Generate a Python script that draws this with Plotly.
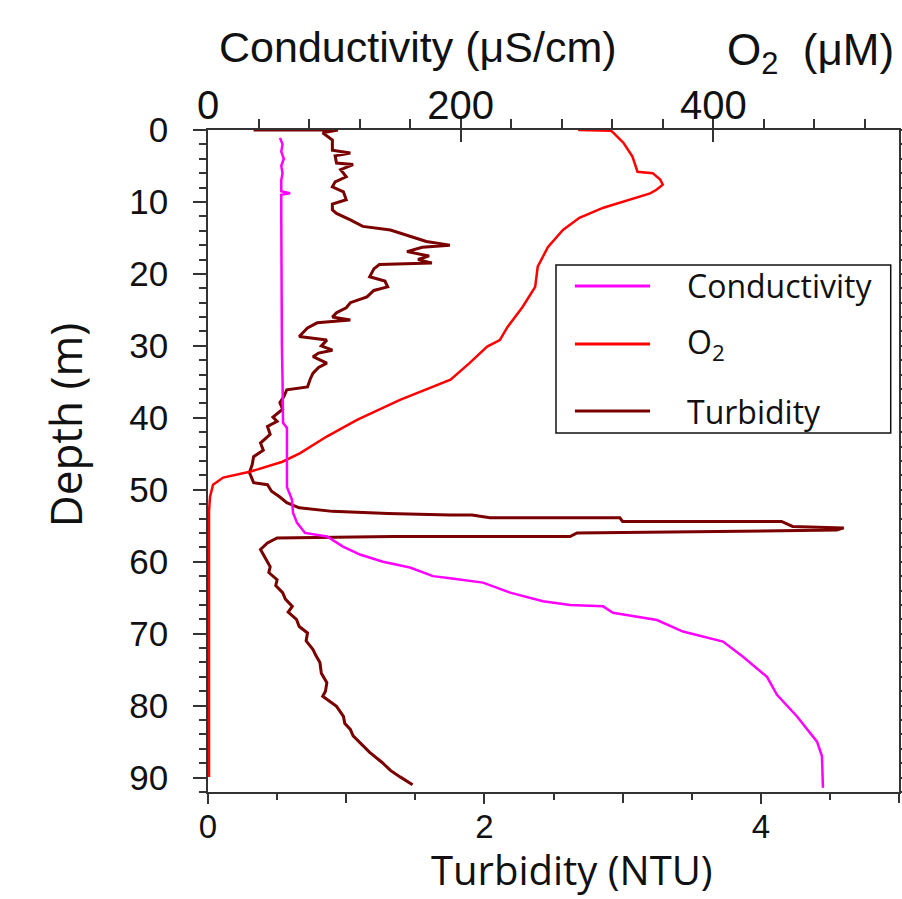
import plotly.graph_objects as go

# ---------------- data ----------------
cond_depth = [1.1, 2, 3, 4, 5, 6, 7, 8.5, 8.8, 9.0, 12, 20, 30, 34.7, 37.5, 40.7, 41.4, 49.6,
              51.4, 53.2, 54.6, 56.0, 56.5, 57.9, 59.0, 60.0, 60.8, 62.0, 62.3, 62.9, 64.3,
              65.5, 66.0, 66.2, 67.1, 68.1, 69.7, 71.1, 73.2, 76.0, 78.5, 81.5, 85.0, 87.0, 91.4]
cond_val = [57, 59, 58, 60, 58, 59, 58, 58, 65, 58, 58, 58, 58.5, 59, 59.4, 59.4, 62.5, 62.5,
            66.5, 67.3, 70.5, 76.8, 94.2, 106.9, 120.3, 138.5, 159.9, 178.1, 191.6, 217.7, 239.1,
            265.2, 286.6, 312.7, 320.6, 355.4, 376.0, 407.7, 423.5, 442.5, 450.4, 466.3, 482.1, 486.0, 486.8]

o2_depth = [0, 0.1, 0.4, 1.8, 3.7, 5.8, 6.0, 6.9, 7.6, 8.3, 8.8, 9.7, 10.8, 12.2, 13.9, 16.3,
            19.0, 21.8, 24.6, 27.4, 29.2, 30.1, 32.4, 34.7, 37.5, 40.3, 42.6, 44.9, 46.1, 47.5,
            48.3, 49.3, 51.0, 53.0, 89.9]
o2_val = [293, 319, 321, 329, 336, 340, 352, 358, 360, 355, 350, 334, 313, 294, 281, 269,
          261, 259, 249, 237, 231, 221, 207, 192, 152, 118, 94, 73, 59, 33,
          12, 4, 1.6, 0.8, 0.8]

turb_depth = [0, 0, 0.4, 1.4, 2.8, 3.2, 3.6, 4.6, 4.8, 5.5, 6.5, 7.2, 7.9, 8.6, 9.7, 10.3, 11.1,
              11.6, 12.5, 13.4, 13.9, 15.0, 15.5, 16.0, 16.3, 16.9, 17.5, 18.0, 18.5, 18.7, 19.3,
              20.4, 21.0, 21.8, 22.3, 23.2, 24.0, 24.7, 25.4, 26.0, 26.4, 26.8, 27.5, 28.7, 29.2,
              30.0, 30.6, 31.0, 31.5, 32.4, 33.0, 33.8, 34.6, 35.7, 36.1, 37.0, 37.9, 38.8, 39.9,
              40.5, 41.2, 42.3, 43.5, 44.5, 45.4, 46.5, 47.6, 49.0, 49.3, 50.2, 51.0, 51.8, 52.5,
              53.0, 53.3, 53.5, 53.5, 53.9, 53.9, 54.4, 54.4, 55.1, 55.3, 55.6, 55.8, 56.0, 56.5,
              56.5, 56.7, 57.4, 58.3, 59.3, 60.7, 61.5, 62.5, 63.3, 64.3, 65.2, 66.2, 67.0, 68.0,
              69.0, 69.9, 71.0, 72.2, 73.0, 74.0, 75.5, 76.8, 78.0, 78.7, 80.1, 81.5, 82.5, 83.3,
              84.2, 85.1, 86.5, 87.9, 89.0, 89.9, 91.0]
turb_val = [0.33, 0.94, 0.83, 0.90, 0.90, 1.03, 0.92, 0.93, 1.05, 0.96, 1.00, 0.92, 0.90, 0.98, 1.00, 0.90, 0.90,
            0.93, 1.03, 1.12, 1.32, 1.51, 1.58, 1.75, 1.55, 1.44, 1.60, 1.52, 1.62, 1.24, 1.20,
            1.17, 1.28, 1.30, 1.20, 1.15, 1.03, 1.00, 0.93, 0.90, 1.03, 0.79, 0.72, 0.66, 0.86,
            0.82, 0.90, 0.80, 0.76, 0.86, 0.80, 0.76, 0.74, 0.72, 0.57, 0.55, 0.52, 0.54, 0.47,
            0.50, 0.43, 0.45, 0.38, 0.40, 0.33, 0.32, 0.30, 0.33, 0.43, 0.46, 0.52, 0.57, 0.66,
            0.90, 1.30, 1.75, 1.91, 2.04, 2.98, 3.00, 4.15, 4.23, 4.60, 4.55, 3.29, 2.67, 2.62,
            1.34, 0.50, 0.43, 0.38, 0.41, 0.45, 0.44, 0.50, 0.49, 0.54, 0.56, 0.61, 0.58, 0.64,
            0.66, 0.72, 0.71, 0.76, 0.78, 0.81, 0.82, 0.86, 0.85, 0.83, 0.93, 0.98, 0.99, 1.03,
            1.05, 1.10, 1.17, 1.26, 1.32, 1.39, 1.48]

bottom_ticks = [0, 2, 4]
bottom_labels = ["0", "2", "4"]
bottom_unlabeled_ticks = [1, 3, 5]
top_ticks = [0, 200, 400]
top_labels = ["0", "200", "400"]

legend_names = ["Conductivity", "O<sub>2</sub>", "Turbidity"]
colors = ["#ff00ff", "#ff0000", "#7a0000"]

# ---------------- figure ----------------
ARIAL = "Liberation Sans, Arial, sans-serif"
CALI = "Open Sans, Lato, sans-serif"
AX = "#333333"

fig = go.Figure()
fig.add_trace(go.Scatter(x=o2_val, y=o2_depth, mode="lines", xaxis="x2", name="O2",
                         line=dict(color=colors[1], width=2.5), showlegend=False))
fig.add_trace(go.Scatter(x=cond_val, y=cond_depth, mode="lines", xaxis="x2", name="Conductivity",
                         line=dict(color=colors[0], width=2.5), showlegend=False))
fig.add_trace(go.Scatter(x=turb_val, y=turb_depth, mode="lines", xaxis="x", name="Turbidity",
                         line=dict(color=colors[2], width=3), showlegend=False))
# empty helper trace so the unlabeled major-tick axis is drawn
fig.add_trace(go.Scatter(x=[], y=[], xaxis="x3", showlegend=False, hoverinfo="skip"))

fig.update_layout(
    width=902, height=899,
    margin=dict(l=208, r=3, t=130, b=107, autoexpand=False),
    paper_bgcolor="white", plot_bgcolor="white",
    xaxis=dict(range=[0, 5], tickvals=bottom_ticks, ticktext=bottom_labels,
               ticks="outside", ticklen=10, tickwidth=1.5, tickcolor=AX,
               minor=dict(dtick=0.5, ticks="outside", ticklen=6, tickwidth=1.5, tickcolor=AX),
               showline=True, linecolor=AX, linewidth=1.5, showgrid=False, zeroline=False,
               ticklabelstandoff=-5,
               automargin=False, tickfont=dict(family=ARIAL, size=33, color="#111")),
    xaxis3=dict(range=[0, 5], overlaying="x", side="bottom", anchor="y",
                tickvals=bottom_unlabeled_ticks, showticklabels=False,
                ticks="outside", ticklen=10, tickwidth=1.5, tickcolor=AX,
                showline=False, showgrid=False, zeroline=False, automargin=False),
    xaxis2=dict(range=[0, 547], overlaying="x", side="top", anchor="y",
                tickvals=top_ticks, ticktext=top_labels,
                ticks="inside", ticklen=12, tickwidth=1.5, tickcolor=AX,
                minor=dict(dtick=40, ticks="outside", ticklen=9, tickwidth=1.5, tickcolor=AX),
                showline=True, linecolor=AX, linewidth=1.5, showgrid=False, zeroline=False,
                ticklabelstandoff=-7,
                automargin=False, tickfont=dict(family=ARIAL, size=40, color="#111")),
    yaxis=dict(range=[92, 0], dtick=10, tick0=0,
               ticks="outside", ticklen=13, tickwidth=1.5, tickcolor=AX,
               minor=dict(dtick=2, ticks="outside", ticklen=7, tickwidth=1.5, tickcolor=AX),
               showline=True, mirror="ticks", linecolor=AX, linewidth=1.5,
               showgrid=False, zeroline=False, ticklabelstandoff=18, automargin=False,
               tickfont=dict(family=ARIAL, size=35, color="#111")),
)

ann = [
    dict(text="Conductivity (μS/cm)", x=0.304, y=1.1254, font=dict(family=ARIAL, size=43, color="#111")),
    dict(text="O<sub>2</sub>  (μM)", x=0.872, y=1.116, font=dict(family=ARIAL, size=44, color="#111")),
    dict(text="Turbidity (NTU)", x=0.527, y=-0.1175, font=dict(family=CALI, size=40, color="#111")),
    dict(text="Depth (m)", x=-0.207, y=0.554, textangle=-90, font=dict(family=CALI, size=44, color="#111")),
]
for a in ann:
    fig.add_annotation(xref="paper", yref="paper", showarrow=False,
                       xanchor="center", yanchor="middle", **a)

# legend box, drawn in paper coordinates
fig.add_shape(type="rect", xref="paper", yref="paper", x0=0.5036, x1=0.988, y0=0.5423, y1=0.796,
              line=dict(color="#111", width=1.5), fillcolor="white", layer="above")
leg_y = [0.7644, 0.6767, 0.5755]
for name, col, yy in zip(legend_names, colors, leg_y):
    fig.add_shape(type="line", xref="paper", yref="paper", x0=0.531, x1=0.6397, y0=yy, y1=yy,
                  line=dict(color=col, width=3), layer="above")
    fig.add_annotation(xref="paper", yref="paper", x=0.6903, y=yy, text=name, showarrow=False,
                       xanchor="left", yanchor="middle", font=dict(family=CALI, size=32, color="#111"))

fig.write_html("out.html")
